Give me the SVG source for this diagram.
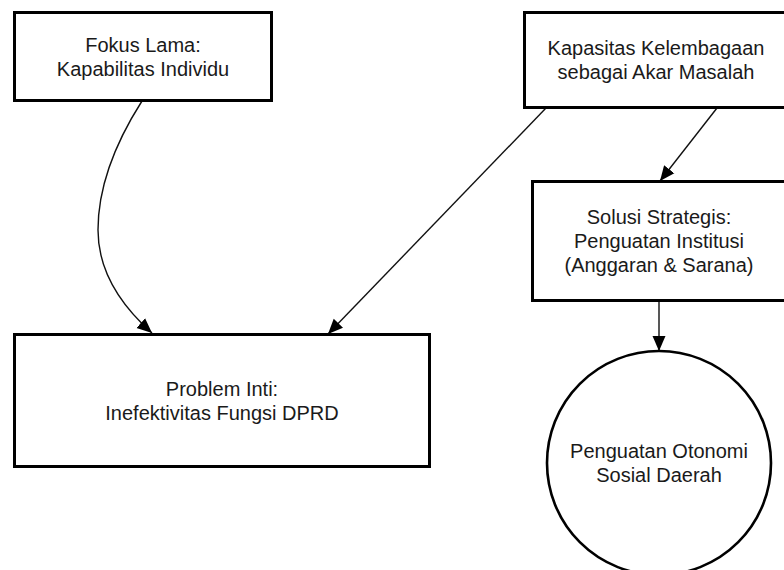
<svg xmlns="http://www.w3.org/2000/svg" width="784" height="570" viewBox="0 0 784 570">
<style>
.box{fill:#fff;stroke:#000;stroke-width:3}
.circ{fill:#fff;stroke:#000;stroke-width:2.6}
.t{font-family:"Liberation Sans",Arial,sans-serif;font-size:20px;fill:#1a1a1a;text-anchor:middle}
.edge{fill:none;stroke:#111;stroke-width:1.4}
</style>
<defs>
<marker id="ah" markerUnits="userSpaceOnUse" markerWidth="16" markerHeight="14" refX="15" refY="7" orient="auto">
<path d="M0,0.5 L15,7 L0,13.5 z" fill="#000"/>
</marker>
</defs>
<rect width="784" height="570" fill="#fff"/>
<g id="connectors">
<path class="edge" d="M142,101 Q98,170 98,230 Q98,285 152,333" marker-end="url(#ah)"/>
<path class="edge" d="M546,108 L328,334" marker-end="url(#ah)"/>
<path class="edge" d="M717,108 L660,181" marker-end="url(#ah)"/>
<path class="edge" d="M659,301 L659,351" marker-end="url(#ah)"/>
</g>
<g id="fokus-lama">
<rect class="box" x="14.5" y="12.5" width="257" height="88"/>
<text class="t" x="143" y="52">Fokus Lama:</text>
<text class="t" x="143" y="76">Kapabilitas Individu</text>
</g>
<g id="kapasitas">
<rect class="box" x="524.5" y="12.5" width="264" height="95"/>
<text class="t" x="656" y="55">Kapasitas Kelembagaan</text>
<text class="t" x="656" y="79">sebagai Akar Masalah</text>
</g>
<g id="solusi">
<rect class="box" x="532.5" y="181.5" width="254" height="119"/>
<text class="t" x="659" y="224">Solusi Strategis:</text>
<text class="t" x="659" y="248">Penguatan Institusi</text>
<text class="t" x="659" y="272">(Anggaran &amp; Sarana)</text>
</g>
<g id="problem">
<rect class="box" x="14.5" y="334.5" width="415" height="132"/>
<text class="t" x="222" y="396">Problem Inti:</text>
<text class="t" x="222" y="420">Inefektivitas Fungsi DPRD</text>
</g>
<g id="otonomi">
<circle class="circ" cx="659" cy="463" r="112"/>
<text class="t" x="659" y="458">Penguatan Otonomi</text>
<text class="t" x="659" y="482">Sosial Daerah</text>
</g>
</svg>
